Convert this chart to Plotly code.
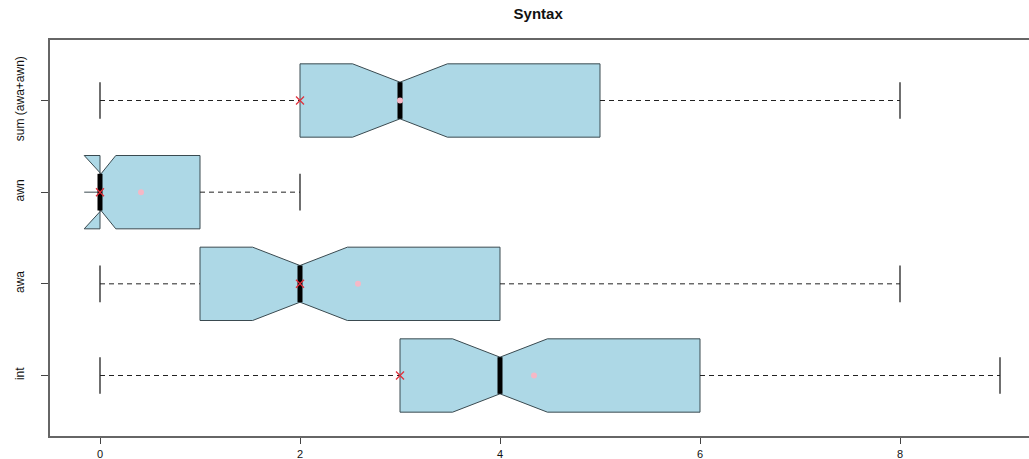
import plotly.graph_objects as go

# Summary statistics per measure (bottom to top)
labels = ["int", "awa", "awn", "sum (awa+awn)"]
lower = [0, 0, 0, 0]
q1 = [3, 1, 0, 2]
median = [4, 2, 0, 3]
q3 = [6, 4, 1, 5]
upper = [9, 8, 2, 8]
notch = [0.474, 0.474, 0.158, 0.474]
means = [4.34, 2.58, 0.41, 3.0]
modes = [3, 2, 0, 2]

pos = [1, 2, 3, 4]
box_w = 0.8
half = box_w / 2
notch_w = 0.25          # plotly: 0 = no notch, 0.5 = fully pinched
waist = half * (1 - 2 * notch_w)
line_col = "#3a4a50"

fig = go.Figure()

# Notched boxes (whiskers drawn separately as dashed lines)
for i in range(len(labels)):
    fig.add_trace(go.Box(
        y=[pos[i]], orientation="h",
        q1=[q1[i]], median=[median[i]], q3=[q3[i]],
        lowerfence=[q1[i]], upperfence=[q3[i]],
        notchspan=[notch[i]], notched=True, notchwidth=notch_w,
        width=box_w, whiskerwidth=0,
        fillcolor="#add8e6", line=dict(color=line_col, width=1),
        boxpoints=False, hoverinfo="skip", showlegend=False,
    ))

# Dashed whiskers with staples
for i in range(len(labels)):
    for a, b in ((lower[i], q1[i]), (q3[i], upper[i])):
        if a == b:
            continue
        fig.add_trace(go.Scatter(
            x=[a, b], y=[pos[i], pos[i]], mode="lines",
            line=dict(color="#222", width=1, dash="5px,4px"),
            showlegend=False, hoverinfo="skip"))
    for v in (lower[i], upper[i]):
        fig.add_trace(go.Scatter(
            x=[v, v], y=[pos[i] - half / 2, pos[i] + half / 2], mode="lines",
            line=dict(color="#222", width=1.3),
            showlegend=False, hoverinfo="skip"))

# Thick median segments across the notch waist
for i in range(len(labels)):
    fig.add_trace(go.Scatter(
        x=[median[i], median[i]], y=[pos[i] - waist, pos[i] + waist], mode="lines",
        line=dict(color="black", width=5),
        showlegend=False, hoverinfo="skip"))

# Means and modes
fig.add_trace(go.Scatter(
    x=means, y=pos, mode="markers",
    marker=dict(symbol="circle", size=6, color="#f5b8c6"),
    showlegend=False, hoverinfo="skip"))
fig.add_trace(go.Scatter(
    x=modes, y=pos, mode="markers",
    marker=dict(symbol="x-thin-open", size=8, color="#e0303c",
                line=dict(color="#e0303c", width=1.3)),
    showlegend=False, hoverinfo="skip"))

fig.update_layout(
    width=1029, height=459,
    margin=dict(l=50, r=0, t=40, b=23),
    paper_bgcolor="white", plot_bgcolor="white",
    font=dict(family="Liberation Sans, Arial, sans-serif", size=12, color="#111"),
    title=dict(text="<b>Syntax</b>", x=0.523, xanchor="center", y=0.97, yanchor="middle",
               font=dict(size=15, color="#111")),
)
fig.update_xaxes(
    range=[-0.5, 9.29], tickvals=[0, 2, 4, 6, 8], showgrid=False, zeroline=False,
    showline=True, mirror=True, linecolor="#666", linewidth=2,
    ticks="outside", ticklen=6, tickcolor="#444", ticklabelstandoff=1,
    tickfont=dict(size=11), automargin=False,
)
fig.update_yaxes(
    range=[0.34, 4.66], tickvals=pos, ticktext=labels, tickangle=-90,
    showgrid=False, zeroline=False, showline=True, linecolor="#666", linewidth=2,
    ticks="outside", ticklen=7, tickcolor="#444", ticklabelstandoff=12,
    automargin=False,
)

fig.write_html("out.html")
